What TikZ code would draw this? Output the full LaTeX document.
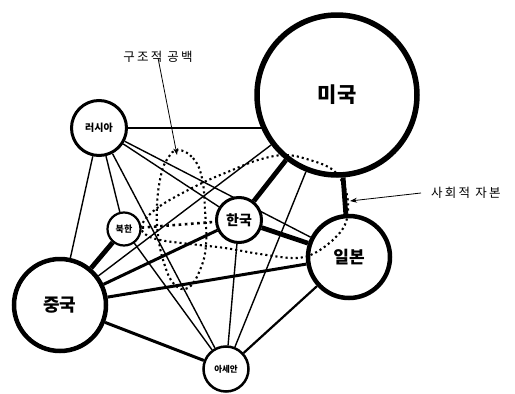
\documentclass[tikz,border=0pt]{standalone}
\usepackage{fontspec}
\newfontfamily\kr{Noto Sans CJK KR}
\newfontfamily\krwide{Noto Sans CJK KR}[LetterSpace=18]
\usetikzlibrary{arrows.meta}
\pgfdeclarelayer{bg}
\pgfsetlayers{bg,main}
\begin{document}
\begin{tikzpicture}[x=1pt,y=-1pt,
  country/.style={circle, draw, fill=white, inner sep=0pt, font=\kr\bfseries},
  thinedge/.style={line width=1.4pt},
  midedge/.style={line width=2.2pt},
  thickedge/.style={line width=3pt},
  heavyedge/.style={line width=4.8pt},
  dotline/.style={line width=2.6pt, dash pattern=on 2.6pt off 3.6pt},
  dotloop/.style={line width=2.1pt, dash pattern=on 2.1pt off 3pt},
  note/.style={font=\krwide\fontsize{12.5}{14}\selectfont, inner sep=0pt},
  pointer/.style={line width=0.8pt, -{Stealth[length=7pt,width=5pt]}}]
\useasboundingbox (0,0) rectangle (515,394);

\node[country, minimum size=160pt, line width=5.5pt, font=\kr\bfseries\fontsize{21}{23}\selectfont] (us) at (337,95) {미국};
\node[country, minimum size=82pt, line width=4.5pt, font=\kr\bfseries\fontsize{17}{19}\selectfont] (jp) at (349,257) {일본};
\node[country, minimum size=92pt, line width=4.5pt, font=\kr\bfseries\fontsize{18}{20}\selectfont] (cn) at (60,305) {중국};
\node[country, minimum size=45pt, line width=3pt, font=\kr\bfseries\fontsize{14}{16}\selectfont] (kr) at (239,220) {한국};
\node[country, minimum size=55pt, line width=3pt, font=\kr\bfseries\fontsize{10}{12}\selectfont] (ru) at (99,128) {러시아};
\node[country, minimum size=33pt, line width=2.2pt, font=\kr\bfseries\fontsize{9}{11}\selectfont] (nk) at (124,229) {북한};
\node[country, minimum size=45pt, line width=2.5pt, font=\kr\bfseries\fontsize{8.5}{10}\selectfont] (as) at (226,369) {아세안};

\begin{pgfonlayer}{bg}
\draw[midedge] (ru) -- (ru -| us.center);
\draw[thinedge] (ru) -- (jp);
\draw[thinedge] (ru) -- (kr);
\draw[thinedge] (ru) -- (as);
\draw[thinedge] (ru) -- (nk);
\draw[thinedge] (ru) -- (cn);
\draw[heavyedge] (cn) -- (nk);
\draw[thickedge] (cn) -- (kr);
\draw[thinedge] (cn) -- (us);
\draw[thickedge] (cn) -- (jp);
\draw[thickedge] (cn) -- (as);
\draw[thinedge] (nk) -- (as);
\draw[heavyedge] (kr) -- (us);
\draw[heavyedge] (kr) -- (jp);
\draw[heavyedge] (us) -- (jp);
\draw[thinedge] (kr) -- (as);
\draw[thinedge] (us) -- (as);
\draw[midedge] (jp) -- (as);
\draw[dotline] (nk) -- (kr);
\end{pgfonlayer}

% structural hole
\draw[dotloop] plot[smooth cycle, tension=0.7] coordinates {
  (178,150) (193,158) (202,178) (205,210) (206,245) (200,270) (188,288)
  (174,284) (164,263) (158,235) (157,205) (161,175) (168,158)};
% social capital
\draw[dotloop] plot[smooth cycle, tension=0.6] coordinates {
  (142,224) (160,206) (200,184) (230,171) (258,160) (285,155) (310,160)
  (333,170) (345,188) (348,210) (342,230) (320,250) (297,258) (260,254)
  (225,248) (190,244) (160,240) (145,234)};

\node[note] (hole) at (158,57) {구조적 공백};
\coordinate (holetip) at (177,155);
\draw[pointer] (hole.south) ++(0,-5) coordinate (holestart) -- (holetip);

\node[note, anchor=west] (capital) at (431,193) {사회적 자본};
\coordinate (captip) at (350,201);
\draw[pointer] (capital.west) ++(-10,0) coordinate (capstart) -- (captip);
\end{tikzpicture}
\end{document}
